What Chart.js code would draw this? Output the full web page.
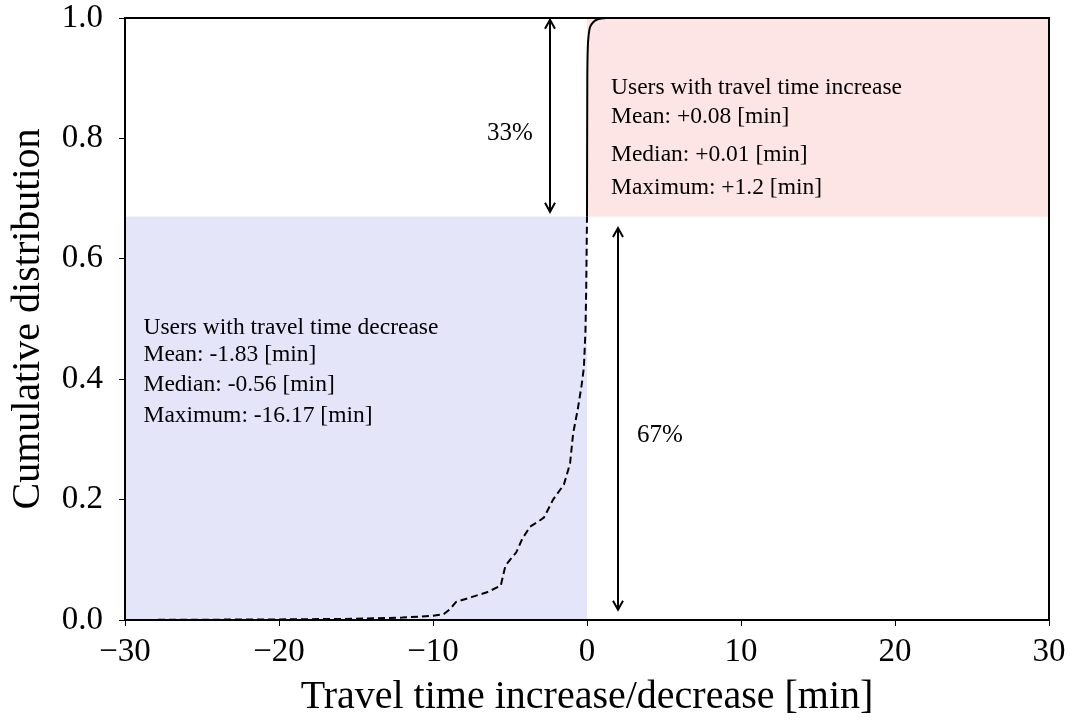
<!DOCTYPE html>
<html>
<head>
<meta charset="utf-8">
<script src="https://cdn.jsdelivr.net/npm/chart.js@4"></script>
<style>
  body { margin: 0; background: #fff; }
  #wrap { width: 1073px; height: 725px; }
</style>
</head>
<body>
<div id="wrap"><canvas id="cdfChart" width="1073" height="725"></canvas></div>
<script>
// CDF of travel time change
var decX = [-30, -20, -15, -12, -10, -9.3, -8.9, -8.5, -7.5, -6.5, -5.6, -5.3, -5.0, -4.6, -4.2, -3.7, -3.2, -2.8, -2.2, -1.5, -1.1, -0.9, -0.6, -0.35, -0.2, -0.1, -0.05, 0];
var decY = [0, 0.001, 0.002, 0.004, 0.007, 0.010, 0.018, 0.030, 0.038, 0.046, 0.057, 0.090, 0.100, 0.112, 0.135, 0.155, 0.163, 0.170, 0.200, 0.225, 0.260, 0.310, 0.350, 0.390, 0.420, 0.480, 0.550, 0.670];
var incX = [0, 0.02, 0.05, 0.1, 0.2, 0.4, 0.7, 1.2];
var incY = [0.670, 0.900, 0.950, 0.970, 0.985, 0.993, 0.998, 1.0];

var shareInc = 0.67; // boundary between the two groups
var decText = ["Users with travel time decrease", "Mean: -1.83 [min]", "Median: -0.56 [min]", "Maximum: -16.17 [min]"];
var incText = ["Users with travel time increase", "Mean: +0.08 [min]", "Median: +0.01 [min]", "Maximum: +1.2 [min]"];
var pctLabels = ["33%", "67%"];

var SERIF = "'Liberation Serif', 'Times New Roman', serif";

function toPts(xs, ys) {
    return xs.map(function (x, i) { return { x: x, y: ys[i] }; });
}

function arrowHead(ctx, x, y, dir) {
    // open V head, dir = -1 up, +1 down
    ctx.beginPath();
    ctx.moveTo(x - 5, y - dir * 9);
    ctx.lineTo(x, y);
    ctx.lineTo(x + 5, y - dir * 9);
    ctx.stroke();
}

function vArrow(ctx, x, y1, y2) {
    ctx.beginPath();
    ctx.moveTo(x, y1);
    ctx.lineTo(x, y2);
    ctx.stroke();
    arrowHead(ctx, x, y1, -1);
    arrowHead(ctx, x, y2, 1);
}

var decorPlugin = {
    id: 'decor',
    beforeDatasetsDraw: function (chart) {
        var ctx = chart.ctx, xs = chart.scales.x, ys = chart.scales.y;
        ctx.save();
        ctx.fillStyle = '#e5e5fa';
        ctx.fillRect(xs.getPixelForValue(-30), ys.getPixelForValue(shareInc),
            xs.getPixelForValue(0) - xs.getPixelForValue(-30), ys.getPixelForValue(0) - ys.getPixelForValue(shareInc));
        ctx.fillStyle = '#fde5e5';
        ctx.fillRect(xs.getPixelForValue(0), ys.getPixelForValue(1),
            xs.getPixelForValue(30) - xs.getPixelForValue(0), ys.getPixelForValue(shareInc) - ys.getPixelForValue(1));
        ctx.restore();
    },
    afterDatasetsDraw: function (chart) {
        var ctx = chart.ctx, xs = chart.scales.x, ys = chart.scales.y, a = chart.chartArea;
        ctx.save();
        ctx.strokeStyle = '#000';
        ctx.lineWidth = 2;
        vArrow(ctx, Math.round(xs.getPixelForValue(-2.4)), ys.getPixelForValue(0.997), ys.getPixelForValue(0.678));
        vArrow(ctx, Math.round(xs.getPixelForValue(2.0)), ys.getPixelForValue(0.651), ys.getPixelForValue(0.017));

        ctx.fillStyle = '#000';
        ctx.font = '25px ' + SERIF;
        ctx.textAlign = 'center';
        ctx.textBaseline = 'middle';
        ctx.fillText(pctLabels[0], xs.getPixelForValue(-5.0), ys.getPixelForValue(0.809));
        ctx.fillText(pctLabels[1], xs.getPixelForValue(4.74), ys.getPixelForValue(0.307));

        ctx.font = '23.5px ' + SERIF;
        ctx.textAlign = 'left';
        var decYs = [0.485, 0.440, 0.390, 0.339];
        var incYs = [0.884, 0.836, 0.772, 0.718];
        decText.forEach(function (t, i) {
            ctx.fillText(t, xs.getPixelForValue(-28.8), ys.getPixelForValue(decYs[i]));
        });
        incText.forEach(function (t, i) {
            ctx.fillText(t, xs.getPixelForValue(1.56), ys.getPixelForValue(incYs[i]));
        });

        // frame
        ctx.lineWidth = 2;
        ctx.strokeRect(a.left, a.top, a.right - a.left, a.bottom - a.top);
        ctx.restore();
    }
};

var ctx = document.getElementById('cdfChart');
var cdfChart = new Chart(ctx, {
    type: 'line',
    data: {
        datasets: [{
            label: 'decrease',
            data: toPts(decX, decY),
            borderColor: '#000',
            borderWidth: 2,
            borderDash: [7, 4],
            pointRadius: 0,
            tension: 0,
            fill: false
        }, {
            label: 'increase',
            data: toPts(incX, incY),
            borderColor: '#000',
            borderWidth: 2,
            pointRadius: 0,
            tension: 0.3,
            fill: false
        }]
    },
    options: {
        responsive: false,
        animation: false,
        layout: { padding: { top: 18, right: 24, left: 0, bottom: 0 } },
        plugins: {
            legend: { display: false },
            tooltip: { enabled: false }
        },
        scales: {
            x: {
                type: 'linear',
                min: -30,
                max: 30,
                afterFit: function (s) { s.height = 105; s.paddingLeft = 0; s.paddingRight = 0; },
                ticks: {
                    stepSize: 10,
                    color: '#000',
                    padding: 10,
                    font: { family: SERIF, size: 33, lineHeight: 1 },
                    maxRotation: 0,
                    callback: function (v) { return v < 0 ? '\u2212' + Math.abs(v) : String(v); }
                },
                grid: { drawOnChartArea: false, drawTicks: true, tickLength: 6, color: '#000' },
                border: { display: true, color: '#000', width: 2 },
                title: {
                    display: true,
                    text: 'Travel time increase/decrease [min]',
                    color: '#000',
                    font: { family: SERIF, size: 40 },
                    padding: { top: 0, bottom: 4 }
                }
            },
            y: {
                min: 0,
                max: 1,
                afterFit: function (s) { s.width = 125; s.paddingTop = 0; s.paddingBottom = 0; },
                ticks: {
                    stepSize: 0.2,
                    color: '#000',
                    padding: 16,
                    font: { family: SERIF, size: 33, lineHeight: 1 },
                    callback: function (v) { return v.toFixed(1); }
                },
                grid: { drawOnChartArea: false, drawTicks: true, tickLength: 6, color: '#000' },
                border: { display: true, color: '#000', width: 2 },
                title: {
                    display: true,
                    text: 'Cumulative distribution',
                    color: '#000',
                    font: { family: SERIF, size: 40 },
                    padding: { top: 4, bottom: 0 }
                }
            }
        }
    },
    plugins: [decorPlugin]
});
</script>
</body>
</html>
